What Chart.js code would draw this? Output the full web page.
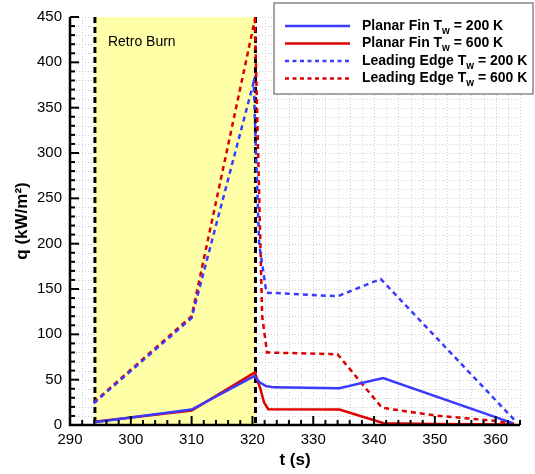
<!doctype html>
<html>

<head>
    <title>Heat flux</title>
    <script src="https://cdn.jsdelivr.net/npm/chart.js"></script>
</head>

<style>
    body {
        margin: 0;
        background: #fff;
    }

    .box {
        width: 535px;
        height: 474px;
    }
</style>

<body>

    <div class="box">
        <canvas id="fluxo"></canvas>
    </div>

    <script>
        // valores
        var planar200T = [294, 310, 320.3, 321.2, 322.2, 323.5, 334.3, 341.5, 362.8];
        var planar200Q = [3, 17, 54, 47, 43, 41.5, 40.5, 51.8, 2];

        var planar600T = [294, 310, 320.4, 321.3, 321.9, 322.6, 334.3, 341.6, 350, 363];
        var planar600Q = [3.5, 16, 58, 40, 25, 17.5, 17, 2, 1, 0.5];

        var leading200T = [293.9, 310, 320.2, 321.1, 322.3, 334, 341.1, 363.3];
        var leading200Q = [24, 118, 378, 200, 146, 142, 161, 4];

        var leading600T = [293.9, 310, 320.4, 321.6, 322.4, 334, 341.3, 350, 360, 363.5];
        var leading600Q = [25, 120, 447, 120, 80, 78, 19, 10.5, 4.5, 1];

        var xTicks = [290, 300, 310, 320, 330, 340, 350, 360];
        var yTicks = [0, 50, 100, 150, 200, 250, 300, 350, 400, 450];

        var burnInicio = 294.1;
        var burnFim = 320.5;

        var legendas = [
            { nome: 'Planar Fin T', resto: ' = 200 K', cor: '#3b3bff', tracejado: false },
            { nome: 'Planar Fin T', resto: ' = 600 K', cor: '#dd0000', tracejado: false },
            { nome: 'Leading Edge T', resto: ' = 200 K', cor: '#3b3bff', tracejado: true },
            { nome: 'Leading Edge T', resto: ' = 600 K', cor: '#dd0000', tracejado: true }
        ];

        function pontos(ts, qs) {
            return ts.map((t, i) => ({ x: t, y: qs[i] }));
        }

        var fonte = "'Liberation Sans', Arial, sans-serif";

        // grade pontilhada + faixa amarela
        var fundo = {
            id: 'fundo',
            beforeDatasetsDraw(chart) {
                var ctx = chart.ctx;
                var a = chart.chartArea;
                var x = chart.scales.x;
                var y = chart.scales.y;
                ctx.save();
                ctx.strokeStyle = '#d0d0d0';
                ctx.lineWidth = 1;
                ctx.setLineDash([1, 2]);
                for (var t = 292; t <= 364; t += 2) {
                    var px = Math.round(x.getPixelForValue(t)) + 0.5;
                    ctx.beginPath();
                    ctx.moveTo(px, a.top);
                    ctx.lineTo(px, a.bottom);
                    ctx.stroke();
                }
                for (var q = 10; q <= 450; q += 10) {
                    var py = Math.round(y.getPixelForValue(q)) + 0.5;
                    ctx.beginPath();
                    ctx.moveTo(a.left, py);
                    ctx.lineTo(a.right, py);
                    ctx.stroke();
                }
                ctx.setLineDash([]);

                var x1 = x.getPixelForValue(burnInicio);
                var x2 = x.getPixelForValue(burnFim);
                ctx.fillStyle = '#ffffa8';
                ctx.fillRect(x1, a.top, x2 - x1, a.bottom - a.top);

                ctx.strokeStyle = '#000';
                ctx.lineWidth = 3;
                ctx.setLineDash([6, 4]);
                [x1, x2].forEach(px => {
                    ctx.beginPath();
                    ctx.moveTo(px, a.top);
                    ctx.lineTo(px, a.bottom);
                    ctx.stroke();
                });
                ctx.setLineDash([]);

                ctx.fillStyle = '#000';
                ctx.font = '14px ' + fonte;
                ctx.textBaseline = 'middle';
                ctx.fillText('Retro Burn', x1 + 13, a.top + 25);
                ctx.restore();
            }
        };

        // eixos com marcas para dentro + legenda
        var eixos = {
            id: 'eixos',
            afterDraw(chart) {
                var ctx = chart.ctx;
                var a = chart.chartArea;
                var x = chart.scales.x;
                var y = chart.scales.y;
                ctx.save();
                ctx.strokeStyle = '#000';
                ctx.lineWidth = 2;
                for (var t = 290; t <= 364; t += 2) {
                    var px = x.getPixelForValue(t);
                    var tam = t % 10 == 0 ? 9 : 5;
                    ctx.beginPath();
                    ctx.moveTo(px, a.bottom);
                    ctx.lineTo(px, a.bottom - tam);
                    ctx.stroke();
                }
                for (var q = 0; q <= 450; q += 10) {
                    var py = y.getPixelForValue(q);
                    var tam2 = q % 50 == 0 ? 9 : 5;
                    ctx.beginPath();
                    ctx.moveTo(a.left, py);
                    ctx.lineTo(a.left + tam2, py);
                    ctx.stroke();
                }
                ctx.lineWidth = 2.5;
                ctx.beginPath();
                ctx.moveTo(a.left, a.top);
                ctx.lineTo(a.left, a.bottom);
                ctx.lineTo(a.right, a.bottom);
                ctx.stroke();

                // legenda
                ctx.fillStyle = '#fff';
                ctx.fillRect(274, 3, 259, 91);
                ctx.strokeStyle = '#888';
                ctx.lineWidth = 1.5;
                ctx.strokeRect(274, 3, 259, 91);

                legendas.forEach((l, i) => {
                    var ly = 26 + i * 17.5;
                    ctx.strokeStyle = l.cor;
                    ctx.lineWidth = 2.5;
                    ctx.setLineDash(l.tracejado ? [4, 3.5] : []);
                    ctx.beginPath();
                    ctx.moveTo(285, ly);
                    ctx.lineTo(350, ly);
                    ctx.stroke();
                    ctx.setLineDash([]);

                    ctx.fillStyle = '#000';
                    ctx.textBaseline = 'middle';
                    ctx.font = 'bold 14px ' + fonte;
                    var px = 362;
                    ctx.fillText(l.nome, px, ly);
                    px += ctx.measureText(l.nome).width;
                    ctx.font = 'bold 10px ' + fonte;
                    ctx.fillText('w', px, ly + 5);
                    px += ctx.measureText('w').width;
                    ctx.font = 'bold 14px ' + fonte;
                    ctx.fillText(l.resto, px, ly);
                });
                ctx.restore();
            }
        };

        var grafico = new Chart(document.getElementById('fluxo').getContext('2d'), {
            type: 'line',
            data: {
                datasets: [{
                    label: 'Planar Fin Tw = 200 K',
                    data: pontos(planar200T, planar200Q),
                    borderColor: '#3b3bff',
                    borderWidth: 2.5
                }, {
                    label: 'Planar Fin Tw = 600 K',
                    data: pontos(planar600T, planar600Q),
                    borderColor: '#dd0000',
                    borderWidth: 2.5
                }, {
                    label: 'Leading Edge Tw = 200 K',
                    data: pontos(leading200T, leading200Q),
                    borderColor: '#3b3bff',
                    borderWidth: 2.5,
                    borderDash: [5, 4]
                }, {
                    label: 'Leading Edge Tw = 600 K',
                    data: pontos(leading600T, leading600Q),
                    borderColor: '#dd0000',
                    borderWidth: 2.5,
                    borderDash: [5, 4]
                }]
            },
            options: {
                responsive: true,
                maintainAspectRatio: false,
                animation: false,
                events: [],
                elements: {
                    point: { radius: 0 },
                    line: { tension: 0 }
                },
                layout: {
                    padding: { top: 17, right: 15, left: 0, bottom: 0 }
                },
                plugins: {
                    legend: { display: false },
                    tooltip: { enabled: false }
                },
                scales: {
                    x: {
                        type: 'linear',
                        min: 290,
                        max: 364,
                        grid: { display: false, drawTicks: false },
                        border: { display: false },
                        afterBuildTicks: s => { s.ticks = xTicks.map(v => ({ value: v })); },
                        ticks: {
                            autoSkip: false,
                            maxRotation: 0,
                            padding: 6,
                            color: '#000',
                            font: { family: fonte, size: 15 }
                        },
                        title: {
                            display: true,
                            text: 't (s)',
                            color: '#000',
                            font: { family: fonte, size: 17, weight: 'bold' },
                            padding: { top: 0, bottom: 3 }
                        },
                        afterFit: s => { s.height = 49; }
                    },
                    y: {
                        min: 0,
                        max: 450,
                        grid: { display: false, drawTicks: false },
                        border: { display: false },
                        afterBuildTicks: s => { s.ticks = yTicks.map(v => ({ value: v })); },
                        ticks: {
                            padding: 8,
                            color: '#000',
                            font: { family: fonte, size: 15 }
                        },
                        title: {
                            display: true,
                            text: 'q (kW/m²)',
                            color: '#000',
                            font: { family: fonte, size: 17, weight: 'bold' },
                            padding: { top: 12, bottom: 0 }
                        },
                        afterFit: s => { s.width = 70; }
                    }
                }
            },
            plugins: [fundo, eixos]
        });
    </script>
</body>

</html>
